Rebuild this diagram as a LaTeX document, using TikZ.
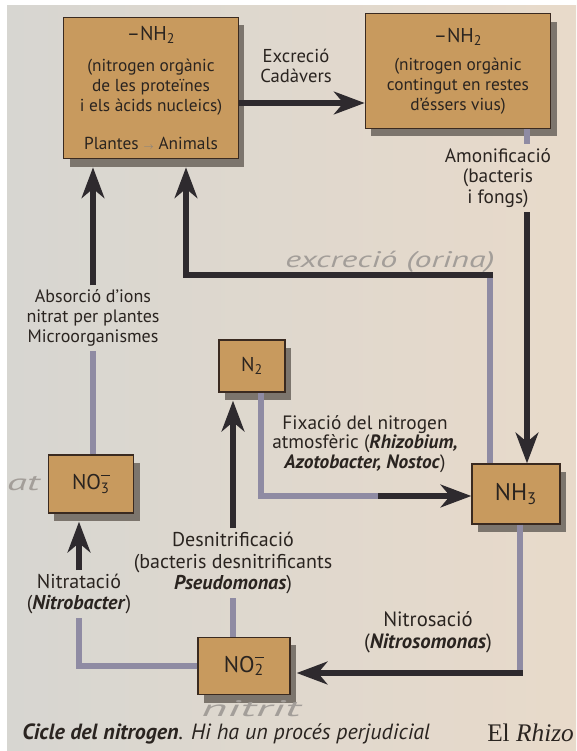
\documentclass[tikz,border=0pt]{standalone}
\usepackage{fontspec}
\setmainfont{PT Sans}
\newfontfamily\bookserif{Liberation Serif}
\usetikzlibrary{arrows.meta,shadows,calc}

\definecolor{paperL}{HTML}{D7D6D1}
\definecolor{paperR}{HTML}{E8DACA}
\definecolor{boxfill}{HTML}{C89A5E}
\definecolor{boxline}{HTML}{3A2A20}
\definecolor{boxshade}{HTML}{7C756D}
\definecolor{linedark}{HTML}{2E2A2E}
\definecolor{linelight}{HTML}{8F8BA3}
\definecolor{pencil}{HTML}{A39E99}
\definecolor{inktext}{HTML}{2A2420}

% subscript with a charge bar set right above it
\newcommand{\chemion}[1]{\rlap{\textsubscript{#1}}\raisebox{1.25ex}{\rule{0.42em}{0.065em}}}
\newcommand{\species}[1]{\textbf{\textit{#1}}}

\tikzset{
  pool/.style={draw=boxline, line width=1pt, fill=boxfill, align=center, text=inktext,
    font=\fontsize{13}{15}\selectfont,
    drop shadow={shadow xshift=4.5pt, shadow yshift=-6pt, fill=boxshade, opacity=1}},
  stage/.style={align=center, text=inktext, inner sep=3pt, font=\fontsize{14.5}{15.5}\selectfont},
  flowdark/.style={draw=linedark, line width=5pt},
  flowlight/.style={draw=linelight, line width=5pt},
  headed/.style={-{Stealth[length=23pt,width=17pt,inset=7pt,color=linedark]}},
  pencilnote/.style={text=pencil, inner sep=0pt, font=\itshape\fontsize{17}{17}\selectfont},
}

\begin{document}
\begin{tikzpicture}[x=0.75pt,y=0.75pt,yscale=-1,xscale=1]

            % Page
            \useasboundingbox (0,0) rectangle (576,751);
            \fill[white] (0,0) rectangle (576,751);
            \fill[left color=paperL, right color=paperR] (7,5) rectangle (576,751);

            % Boxes
            \node[pool, minimum width=131pt, minimum height=106pt] (org) at (151,88)
                {{\fontsize{15}{18}\selectfont –NH\textsubscript{2}}\\[8pt]
                 (nitrogen orgànic\\ de les proteïnes\\ i els àcids nucleics)\\[14pt]
                 Plantes {\color{gray}\scriptsize$\rightarrow$} Animals};
            \node[pool, minimum width=139pt, minimum height=86pt] (rem) at (458,71)
                {{\fontsize{15}{18}\selectfont –NH\textsubscript{2}}\\[6pt]
                 (nitrogen orgànic\\ contingut en restes\\ d’éssers vius)};
            \node[pool, minimum width=66pt, minimum height=45pt, font=\fontsize{18}{20}\selectfont] (nh3) at (516,494) {NH\textsubscript{3}};
            \node[pool, minimum width=64pt, minimum height=43.5pt, font=\fontsize{16}{18}\selectfont] (no3) at (91,484) {NO\chemion{3}};
            \node[pool, minimum width=49.5pt, minimum height=39pt, font=\fontsize{15}{18}\selectfont] (n2) at (252,366) {N\textsubscript{2}};
            \node[pool, minimum width=69pt, minimum height=43pt, font=\fontsize{17}{18}\selectfont] (no2) at (244,666) {NO\chemion{2}};

            % Labels
            \node[stage, font=\fontsize{14}{15}\selectfont] (excr) at (296, 66) {Excreció\\Cadàvers};
            \node[stage] (amon)   at (498,178) {Amonificació\\(bacteris\\i fongs)};
            \node[stage, font=\fontsize{13.5}{15}\selectfont] (absor) at (93,318) {Absorció d’ions\\nitrat per plantes\\Microorganismes};
            \node[stage, font=\fontsize{14.5}{14.5}\selectfont] (fix) at (365,444) {Fixació del nitrogen\\atmosfèric (\species{Rhizobium,}\\\species{Azotobacter, Nostoc})};
            \node[stage, font=\fontsize{15}{16}\selectfont] (desn) at (233,563) {Desnitrificació\\(bacteris desnitrificants\\\species{Pseudomonas})};
            \node[stage, font=\fontsize{15}{15.5}\selectfont] (nitrat) at (79,594) {Nitratació\\(\species{Nitrobacter})};
            \node[stage, font=\fontsize{15.5}{16.5}\selectfont] (nitros) at (428,632) {Nitrosació\\(\species{Nitrosomonas})};

            % Turning points and feet of the boxes (shadow included)
            \coordinate (rowExcr)    at (0,103);
            \coordinate (amonX)      at (527,0);
            \coordinate (urineTurn)  at (490,275);
            \coordinate (urineUp)    at (186,275);
            \coordinate (fixTurn)    at (261,496);
            \coordinate (nitrosTurn) at (520,673);
            \coordinate (orgFoot)  at ($(org.south)+(0,8)$);
            \coordinate (n2Foot)   at ($(n2.south)+(0,8)$);
            \coordinate (no3Foot)  at ($(no3.south)+(0,8)$);
            \coordinate (no2Side)  at ($(no2.east)+(6,0)$);

            % Arrows
            \draw[flowdark, headed] (org.east |- rowExcr) -- (rem.west |- rowExcr);

            \draw[flowlight] (rem.south -| amonX) -- (amon.north -| amonX);
            \draw[flowdark, headed] (amon.south -| amonX) -- (nh3.north -| amonX);

            \draw[flowlight] (nh3.north -| urineTurn) -- (urineTurn);
            \draw[flowdark, headed, line cap=rect] (urineTurn) -- (urineUp) -- (urineUp |- orgFoot);

            \draw[flowlight] (no3.north -| absor) -- (absor.south);
            \draw[flowdark, headed] (absor.north) -- (absor.north |- orgFoot);

            \draw[flowlight] (n2.south -| fixTurn) -- (fixTurn) -- ($(nh3.west |- fixTurn)+(-90,0)$);
            \draw[flowdark, headed, line cap=rect] ($(nh3.west |- fixTurn)+(-90,0)$) -- (nh3.west |- fixTurn);

            \draw[flowlight] (no2.north -| desn) -- (desn.south);
            \draw[flowdark, headed] (desn.north) -- (desn.north |- n2Foot);

            \draw[flowlight] (no2.west) -| (nitrat.south);
            \draw[flowdark, headed] (nitrat.north) -- (nitrat.north |- no3Foot);

            \draw[flowlight] (nh3.south -| nitrosTurn) -- (nitrosTurn);
            \draw[flowdark, headed, line cap=rect] (nitrosTurn) -- (no2Side |- nitrosTurn);

            % Pencil notes
            \node[pencilnote] (urinenote) at (390,262) {\scalebox{1.5}[1]{excreció (orina)}};
            \node[pencilnote] (nitritnote) at (251,709) {\scalebox{2.2}[1]{nitrit}};
            \node[pencilnote, anchor=east] (nitratnote) at (40,484) {\scalebox{1.8}[1]{at}};

            % Caption
            \node[anchor=base west, inner sep=0pt, text=inktext, font=\itshape\fontsize{16.5}{18}\selectfont] (caption) at (22,739)
                {\textbf{Cicle del nitrogen}. Hi ha un procés perjudicial};
            \node[anchor=base west, inner sep=0pt, text=inktext, font=\bookserif\fontsize{19}{21}\selectfont] (nextpara) at (487,741)
                {El \textit{Rhizo}};

\end{tikzpicture}
\end{document}
